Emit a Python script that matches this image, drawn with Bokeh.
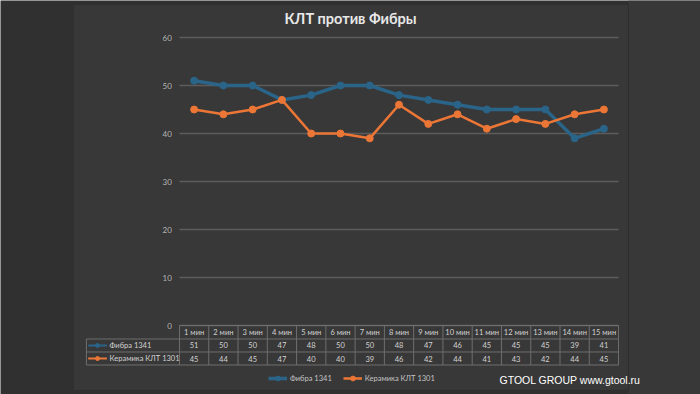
from bokeh.plotting import figure
from bokeh.models import Range1d, Legend, LegendItem, Label, BoxAnnotation
from bokeh.core.properties import value
from bokeh.embed import file_html
from bokeh.resources import INLINE

title = "КЛТ против Фибры"
categories = ["1 мин", "2 мин", "3 мин", "4 мин", "5 мин", "6 мин", "7 мин", "8 мин",
              "9 мин", "10 мин", "11 мин", "12 мин", "13 мин", "14 мин", "15 мин"]
series_names = ["Фибра 1341", "Керамика КЛТ 1301"]
fibra = [51, 50, 50, 47, 48, 50, 50, 48, 47, 46, 45, 45, 45, 39, 41]
keramika = [45, 44, 45, 47, 40, 40, 39, 46, 42, 44, 41, 43, 42, 44, 45]
y_ticks = [0, 10, 20, 30, 40, 50, 60]
watermark = "GTOOL GROUP www.gtool.ru"

BLUE = "#2a6488"
ORANGE = "#ec7636"
TXT = "#d2d2d2"
GRID = "#5c5c5c"
FONT = "Lato"

n = len(categories)
xs = list(range(1, n + 1))

p = figure(width=700, height=394,
           x_range=Range1d(-5.615, 18.30), y_range=Range1d(-14.375, 67.71),
           output_backend="svg", toolbar_location=None,
           x_axis_location=None, y_axis_location=None, title=None,
           min_border_left=0, min_border_right=0, min_border_top=0, min_border_bottom=0,
           border_fill_color="#303030", background_fill_color="#303030",
           outline_line_color=None)
p.grid.visible = False

# backdrop right of the panel (lighter in the photo)
p.add_layout(BoxAnnotation(left=15.84, right=18.30, top=67.71, bottom=-14.375,
                           fill_color="#383838", fill_alpha=1, line_alpha=0, level="underlay"))
# chart panel
p.add_layout(BoxAnnotation(left=-3.121, right=15.84, top=66.875, bottom=-13.54,
                           fill_color="#383838", fill_alpha=1, line_color="#262626",
                           line_width=1, level="underlay"))

# gridlines
p.segment(x0=[0.5] * len(y_ticks), x1=[n + 0.5] * len(y_ticks), y0=y_ticks, y1=y_ticks,
          line_color=GRID, line_width=1.3)
# y tick labels
p.text(x=[0.24] * len(y_ticks), y=y_ticks, text=[str(t) for t in y_ticks],
       text_font=value(FONT), text_font_size="8px", text_color="#b4b4b4",
       text_align="right", text_baseline="middle")

# title
p.text(x=[6.34], y=[63.96], text=[title], text_font=value(FONT), text_font_style="bold",
       text_font_size="14.5px", text_color="#e8e8e8", text_align="center", text_baseline="middle")

# series
l1 = p.line(xs, fibra, line_color=BLUE, line_width=3.5)
s1 = p.scatter(xs, fibra, size=7, fill_color=BLUE, line_color=BLUE)
l2 = p.line(xs, keramika, line_color=ORANGE, line_width=2.5)
s2 = p.scatter(xs, keramika, size=7, fill_color=ORANGE, line_color=ORANGE)

# data table
row_h = 2.71
hdr_bot = -2.81
r1_bot = hdr_bot - row_h
r2_bot = r1_bot - row_h
lab_left = -2.68
TB = "#6e6e6e"
p.segment(x0=[0.5, lab_left, lab_left, lab_left], x1=[n + 0.5] * 4,
          y0=[0, hdr_bot, r1_bot, r2_bot], y1=[0, hdr_bot, r1_bot, r2_bot],
          line_color=TB, line_width=1)
vx = [k + 0.5 for k in range(n + 1)]
p.segment(x0=vx, x1=vx, y0=[0] * len(vx), y1=[r2_bot] * len(vx), line_color=TB, line_width=1)
p.segment(x0=[lab_left], x1=[lab_left], y0=[hdr_bot], y1=[r2_bot], line_color=TB, line_width=1)

hdr_y = hdr_bot / 2
r1_y = (hdr_bot + r1_bot) / 2
r2_y = (r1_bot + r2_bot) / 2
p.text(x=xs, y=[hdr_y] * n, text=categories, text_font=value(FONT), text_font_size="7.5px",
       text_color=TXT, text_align="center", text_baseline="middle")
p.text(x=xs, y=[r1_y] * n, text=[str(v) for v in fibra], text_font=value(FONT),
       text_font_size="7.5px", text_color=TXT, text_align="center", text_baseline="middle")
p.text(x=xs, y=[r2_y] * n, text=[str(v) for v in keramika], text_font=value(FONT),
       text_font_size="7.5px", text_color=TXT, text_align="center", text_baseline="middle")
p.segment(x0=[-2.62, -2.62], x1=[-1.98, -1.98], y0=[r1_y, r2_y], y1=[r1_y, r2_y],
          line_color=[BLUE, ORANGE], line_width=2)
p.scatter(x=[-2.3, -2.3], y=[r1_y, r2_y], size=4, fill_color=[BLUE, ORANGE],
          line_color=[BLUE, ORANGE])
p.text(x=[-1.89, -1.89], y=[r1_y, r2_y], text=series_names, text_font=value(FONT),
       text_font_size="7.5px", text_color=TXT, text_align="left", text_baseline="middle")

# legend
legend = Legend(items=[LegendItem(label=series_names[0], renderers=[l1, s1]),
                       LegendItem(label=series_names[1], renderers=[l2, s2])],
                orientation="horizontal", location=(268, 10),
                background_fill_alpha=0, border_line_color=None,
                label_text_color="#c4c4c4", label_text_font=FONT, label_text_font_size="7.5px",
                glyph_width=19, glyph_height=12, label_height=12, label_standoff=3,
                spacing=11, padding=0, margin=0)
p.add_layout(legend)

p.add_layout(Label(x=11.433, y=-11.25, text=watermark, text_color="white",
                   text_font="Liberation Sans", text_font_size="10.5px",
                   text_baseline="middle", text_align="left"))

open("out.html", "w").write(file_html(p, INLINE))
